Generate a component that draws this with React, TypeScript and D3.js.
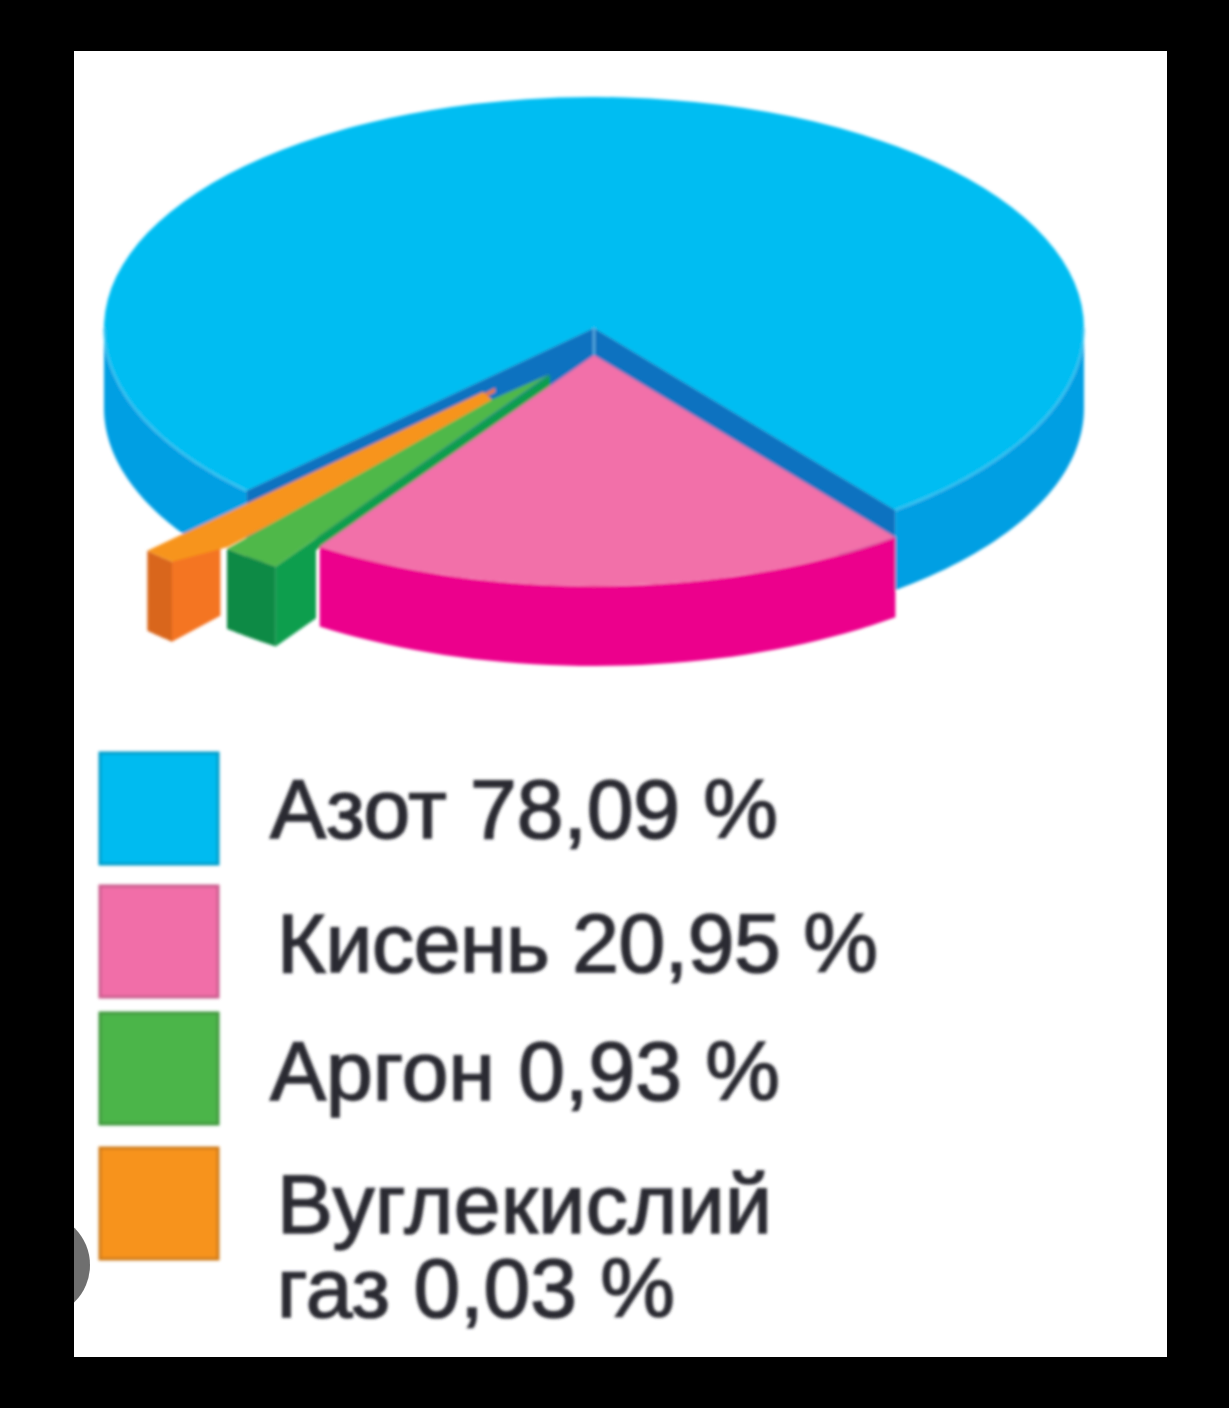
import React from "react";
import * as d3 from "d3";

const categories = ["Азот", "Кисень", "Аргон", "Вуглекислий\nгаз"];
const percentValues = [78.09, 20.95, 0.93, 0.03];
// the picture widens the two small slices, so these are the shares as drawn
const drawnShares = [76.9, 20, 2, 1.1];

const topColors = ["#00bdf2", "#f26fa9", "#50b848", "#f7941e"];
const rimColors = ["#009fe3", "#ec008c", "#0b8a45", "#d9661f"];
const innerColors = ["#0b72c0", "#ec008c", "#0e9e4d", "#f47521"];
const swatchColors = ["#00bbf0", "#f16ea8", "#4bb548", "#f7931e"];

const rad = (deg: number) => (deg * Math.PI) / 180;

const rx = 490;
const ry = 231;
const depth = 80;
const centre = { x: 594, y: 328 };
const explode = [
  [0, 0],
  [0, 27],
  [-44, 47],
  [-99, 60],
];
// how far along the slice's edge its inner wall stays visible
const wallReach = [1, 1, 0.147, 0.15];
// the thin slices do not end in a sharp point, offsets from their centre
const tipPoints: [number, number][][] = [
  [],
  [],
  [
    [-57, 24],
    [0, -1],
  ],
  [
    [-12, 4],
    [2, 16],
    [-267, 159],
  ],
];

const swatchTops = [753, 886, 1013, 1148];
const textRows = [
  [{ x: 270, y: 838, w: 508 }],
  [{ x: 277, y: 972, w: 601 }],
  [{ x: 270, y: 1100, w: 510 }],
  [
    { x: 277, y: 1233, w: 495 },
    { x: 277, y: 1317, w: 398 },
  ],
];

const fmt = (v: number) => d3.format(".2f")(v).replace(".", ",");

const pie = d3
  .pie<number>()
  .sort(null)
  .startAngle(rad(225.2))
  .endAngle(rad(585.2));
const slices = pie(drawnShares);

const arc = d3.arc<any>().innerRadius(0).outerRadius(rx);
const line = d3.line();

type C = { x: number; y: number };
const rim = (c: C, a: number, dy = 0): [number, number] => [
  c.x + rx * Math.sin(a),
  c.y - ry * Math.cos(a) + dy,
];
const sweep = (a0: number, a1: number) =>
  d3.range(0, 41).map((i) => a0 + ((a1 - a0) * i) / 40);

// outer curved wall, the bottom arc may stop earlier than the top one
function outerWall(c: C, a0: number, a1: number, bottomEnd = a1, drop = depth) {
  const top = sweep(a0, a1).map((a) => rim(c, a));
  const corner = rim(c, a1, drop);
  const bottom = sweep(bottomEnd, a0).map((a) => rim(c, a, depth));
  return line([...top, corner, ...bottom]) + "Z";
}

function innerWall(c: C, a: number, reach: number, strip: number) {
  const o = rim(c, a);
  const at = (t: number, dy: number): [number, number] => [
    o[0] + (c.x - o[0]) * t,
    o[1] + (c.y - o[1]) * t + dy,
  ];
  return (
    line([
      [c.x, c.y],
      o,
      [o[0], o[1] + depth],
      at(reach, depth),
      at(reach, strip),
      [c.x, c.y + strip],
    ]) + "Z"
  );
}

function thinTop(c: C, a0: number, a1: number, tips: [number, number][]) {
  const outer = sweep(a0, a1).map((a) => rim(c, a));
  const inner = tips.map(([dx, dy]): [number, number] => [c.x + dx, c.y + dy]);
  return line([...outer, ...inner]) + "Z";
}

export default function App() {
  const centres = explode.map(([dx, dy]) => ({ x: centre.x + dx, y: centre.y + dy }));
  const [blue, pink, green, orange] = slices;
  const blueEnd = blue.endAngle;
  const blueStart = blue.startAngle;

  return (
    <svg
      width={1229}
      height={1408}
      style={{ position: "absolute", left: 0, top: 0, display: "block" }}
    >
      <defs>
        <filter id="soft" filterUnits="userSpaceOnUse" x="0" y="0" width="1229" height="1408">
          <feGaussianBlur stdDeviation="1.7" />
        </filter>
        <clipPath id="panel">
          <rect x={74} y={51} width={1093} height={1306} />
        </clipPath>
      </defs>
      <rect width={1229} height={1408} fill="#000" />
      <rect x={74} y={51} width={1093} height={1306} fill="#fff" />
      <circle cx={38} cy={1265} r={52} fill="#6f6f6f" clipPath="url(#panel)" />

      <g filter="url(#soft)">
        {/* main slice */}
        <path
          d={arc(blue) ?? ""}
          transform={`translate(${centres[0].x},${centres[0].y}) scale(1,${ry / rx})`}
          fill={topColors[0]}
        />
        <path d={innerWall(centres[0], blueEnd, 1, depth)} fill={innerColors[0]} />
        <path d={innerWall(centres[0], blueStart, 1, depth)} fill={innerColors[0]} />
        <path
          d={outerWall(centres[0], rad(90), blueEnd - rad(360))}
          fill={rimColors[0]}
        />
        <path
          d={outerWall(centres[0], rad(270), blueStart, rad(237), 25)}
          fill={rimColors[0]}
        />
        <path
          d={line(sweep(rad(90), blueEnd - rad(360)).map((a) => rim(centres[0], a))) ?? ""}
          fill="none"
          stroke="#4fcdf3"
          strokeWidth={1.5}
        />
        <path
          d={line(sweep(blueStart, rad(270)).map((a) => rim(centres[0], a))) ?? ""}
          fill="none"
          stroke="#4fcdf3"
          strokeWidth={1.5}
        />
        <line
          x1={centre.x}
          x2={centre.x}
          y1={centre.y}
          y2={centres[1].y}
          stroke="#5aaee0"
          strokeWidth={2}
        />

        {/* small exploded slices, furthest first */}
        {[
          { d: orange, i: 3 },
          { d: green, i: 2 },
        ].map(({ d, i }) => {
          const strip = i === 2 ? 12 : 4;
          return (
            <g key={i}>
              <path d={innerWall(centres[i], d.startAngle, wallReach[i], strip)} fill={innerColors[i]} />
              <path d={outerWall(centres[i], d.startAngle, d.endAngle)} fill={rimColors[i]} />
              <path
                d={thinTop(centres[i], d.startAngle, d.endAngle, tipPoints[i])}
                fill={topColors[i]}
              />
            </g>
          );
        })}

        {/* oxygen slice on top */}
        <path d={outerWall(centres[1], pink.startAngle, pink.endAngle)} fill={rimColors[1]} />
        <path
          d={arc(pink) ?? ""}
          transform={`translate(${centres[1].x},${centres[1].y}) scale(1,${ry / rx})`}
          fill={topColors[1]}
        />

        {categories.map((name, i) => {
          const rows = `${name} ${fmt(percentValues[i])} %`.split("\n");
          return (
            <g key={name}>
              <rect
                x={100}
                y={swatchTops[i]}
                width={118}
                height={111}
                fill={swatchColors[i]}
                stroke={d3.color(swatchColors[i])?.darker(0.5).formatHex()}
                strokeWidth={3}
              />
              {rows.map((row, j) => (
                <text
                  key={row}
                  x={textRows[i][j].x}
                  y={textRows[i][j].y}
                  textLength={textRows[i][j].w}
                  lengthAdjust="spacing"
                  fontFamily="Liberation Sans"
                  fontSize={84}
                  fill="#2a2a33"
                  stroke="#2a2a33"
                  strokeWidth={1.6}
                >
                  {row}
                </text>
              ))}
            </g>
          );
        })}
      </g>
    </svg>
  );
}
